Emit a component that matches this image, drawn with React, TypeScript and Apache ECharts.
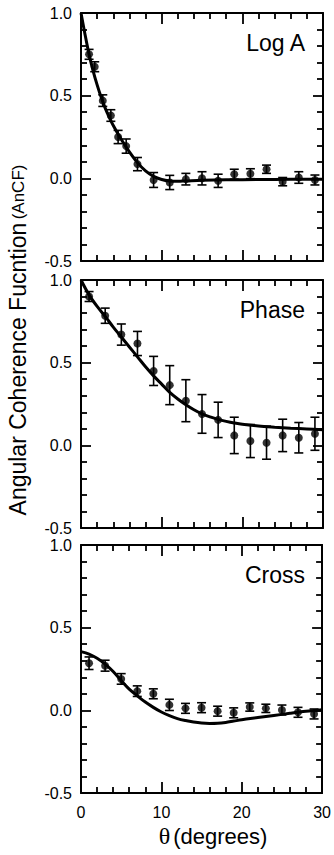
import React, { useEffect, useRef } from "react";
import * as echarts from "echarts";

// ---- Log A panel ----
const logAX = [1, 1.7, 2.7, 3.7, 4.6, 5.6, 7, 9, 11, 13, 15, 17, 19, 21, 23, 25, 27, 29];
const logAY = [0.75, 0.675, 0.47, 0.38, 0.25, 0.195, 0.086, -0.01, -0.025, -0.005, 0.0, -0.015, 0.025, 0.028, 0.055, -0.02, 0.005, -0.01];
const logAErr = [0.03, 0.03, 0.035, 0.035, 0.04, 0.043, 0.04, 0.045, 0.043, 0.035, 0.04, 0.04, 0.03, 0.03, 0.025, 0.025, 0.035, 0.03];
const logAFitX = [0, 0.5, 1, 1.5, 2, 2.5, 3, 3.5, 4, 5, 6, 7, 8, 9, 10, 11, 12, 13, 15, 18, 22, 26, 30];
const logAFitY = [1.0, 0.87, 0.75, 0.65, 0.565, 0.49, 0.425, 0.37, 0.32, 0.235, 0.16, 0.095, 0.045, 0.012, -0.007, -0.016, -0.018, -0.016, -0.012, -0.009, -0.007, -0.006, -0.006];

// ---- Phase panel ----
const phaseX = [1, 3, 5, 7, 9, 11, 13, 15, 17, 19, 21, 23, 25, 27, 29];
const phaseY = [0.9, 0.784, 0.67, 0.616, 0.45, 0.364, 0.27, 0.19, 0.154, 0.06, 0.026, 0.016, 0.06, 0.046, 0.07];
const phaseErr = [0.03, 0.046, 0.064, 0.073, 0.088, 0.118, 0.127, 0.117, 0.107, 0.11, 0.1, 0.1, 0.098, 0.092, 0.1];
const phaseFitX = [0, 1, 2, 3, 4, 5, 6, 7, 8, 9, 10, 11, 12, 13, 14, 15, 16, 17, 18, 19, 20, 22, 24, 26, 28, 30];
const phaseFitY = [1.0, 0.91, 0.84, 0.78, 0.715, 0.655, 0.595, 0.535, 0.475, 0.42, 0.37, 0.32, 0.28, 0.245, 0.215, 0.19, 0.172, 0.157, 0.145, 0.135, 0.127, 0.117, 0.11, 0.104, 0.099, 0.094];

// ---- Cross panel ----
const crossX = [1, 3, 5, 7, 9, 11, 13, 15, 17, 19, 21, 23, 25, 27, 29];
const crossY = [0.285, 0.27, 0.19, 0.116, 0.1, 0.033, 0.012, 0.016, -0.005, -0.015, 0.02, 0.012, 0.002, -0.012, -0.022];
const crossErr = [0.038, 0.033, 0.032, 0.032, 0.03, 0.034, 0.03, 0.03, 0.03, 0.03, 0.025, 0.025, 0.03, 0.03, 0.03];
const crossFitX = [0, 1, 2, 3, 4, 5, 6, 7, 8, 9, 10, 11, 12, 13, 14, 15, 16, 17, 18, 19, 20, 22, 24, 26, 28, 30];
const crossFitY = [0.355, 0.34, 0.315, 0.28, 0.235, 0.18, 0.128, 0.088, 0.05, 0.018, -0.01, -0.032, -0.05, -0.062, -0.071, -0.077, -0.079, -0.078, -0.073, -0.065, -0.057, -0.044, -0.031, -0.018, -0.006, 0.004];

const panelNames = ["Log A", "Phase", "Cross"];
const xTicks = { min: 0, max: 30, interval: 10 };
const yTicks = { min: -0.5, max: 1.0, interval: 0.5 };

const FONT = "'Liberation Sans', Arial, Helvetica, sans-serif";

const panels = [
  { x: logAX, y: logAY, e: logAErr, fx: logAFitX, fy: logAFitY },
  { x: phaseX, y: phaseY, e: phaseErr, fx: phaseFitX, fy: phaseFitY },
  { x: crossX, y: crossY, e: crossErr, fx: crossFitX, fy: crossFitY },
];

const gridTops = [13, 280, 545];
const GRID_LEFT = 81;
const GRID_W = 242;
const GRID_H = 248;

export default function App() {
  const ref = useRef<HTMLDivElement>(null);
  useEffect(() => {
    if (!ref.current) return;
    const chart = echarts.init(ref.current, undefined, { renderer: "svg" });

    const grid: any[] = [];
    const xAxis: any[] = [];
    const yAxis: any[] = [];
    const series: any[] = [];
    const graphic: any[] = [];

    const lineStyle = { color: "#000", width: 2 };
    const tickStyle = { color: "#000", width: 1.8 };

    panels.forEach((p, i) => {
      grid.push({ left: GRID_LEFT, top: gridTops[i], width: GRID_W, height: GRID_H });
      const isLast = i === panels.length - 1;
      const xBase = {
        type: "value",
        gridIndex: i,
        min: xTicks.min,
        max: xTicks.max,
        interval: xTicks.interval,
        splitLine: { show: false },
        axisLine: { show: true, onZero: false, lineStyle },
        axisTick: { show: true, inside: true, length: 11, lineStyle: tickStyle },
        minorTick: { show: true, splitNumber: 5, length: 6, lineStyle: tickStyle },
        minorSplitLine: { show: false },
      };
      xAxis.push({
        ...xBase,
        position: "bottom",
        axisLabel: {
          show: isLast,
          margin: 11,
          color: "#000",
          fontSize: 16,
          fontFamily: FONT,
        },
      });
      xAxis.push({ ...xBase, position: "top", axisLabel: { show: false } });
      const yBase = {
        type: "value",
        gridIndex: i,
        min: yTicks.min,
        max: yTicks.max,
        interval: yTicks.interval,
        splitLine: { show: false },
        axisLine: { show: true, onZero: false, lineStyle },
        axisTick: { show: true, inside: true, length: 10, lineStyle: tickStyle },
        minorTick: { show: true, splitNumber: 5, length: 6, lineStyle: tickStyle },
        minorSplitLine: { show: false },
      };
      yAxis.push({
        ...yBase,
        position: "left",
        axisLabel: {
          show: true,
          margin: 9,
          color: "#000",
          fontSize: 16,
          fontFamily: FONT,
          formatter: (v: number) => v.toFixed(1),
        },
      });
      yAxis.push({ ...yBase, position: "right", axisLabel: { show: false } });

      const xi = 2 * i;
      series.push({
        type: "line",
        xAxisIndex: xi,
        yAxisIndex: xi,
        data: p.fx.map((v, k) => [v, p.fy[k]]),
        smooth: 0.35,
        showSymbol: false,
        symbol: "none",
        lineStyle: { color: "#000", width: 3 },
        z: 3,
      });
      series.push({
        type: "custom",
        xAxisIndex: xi,
        yAxisIndex: xi,
        data: p.x.map((v, k) => [v, p.y[k], p.e[k]]),
        encode: { x: 0, y: 1 },
        renderItem: (params: any, api: any) => {
          const x = api.value(0);
          const y = api.value(1);
          const e = api.value(2);
          const top = api.coord([x, y + e]);
          const bot = api.coord([x, y - e]);
          const hw = 4.5;
          const st = { stroke: "#000", lineWidth: 1.6 };
          return {
            type: "group",
            children: [
              { type: "line", shape: { x1: top[0], y1: top[1], x2: bot[0], y2: bot[1] }, style: st },
              { type: "line", shape: { x1: top[0] - hw, y1: top[1], x2: top[0] + hw, y2: top[1] }, style: st },
              { type: "line", shape: { x1: bot[0] - hw, y1: bot[1], x2: bot[0] + hw, y2: bot[1] }, style: st },
            ],
          };
        },
        z: 4,
      });
      series.push({
        type: "scatter",
        xAxisIndex: xi,
        yAxisIndex: xi,
        data: p.x.map((v, k) => [v, p.y[k]]),
        symbol: "circle",
        symbolSize: 8,
        itemStyle: { color: "#000" },
        z: 5,
      });

      graphic.push({
        type: "text",
        x: 305,
        y: gridTops[i] + 18,
        style: {
          text: panelNames[i],
          fill: "#000",
          font: `23px ${FONT}`,
          align: "right",
          verticalAlign: "top",
        },
      });
    });

    graphic.push({
      type: "text",
      x: 18,
      y: 340,
      rotation: Math.PI / 2,
      style: {
        text: "{a|Angular Coherence Fucntion} {b|(AnCF)}",
        fill: "#000",
        align: "center",
        verticalAlign: "middle",
        rich: {
          a: { fontSize: 23, fontFamily: FONT, fill: "#000" },
          b: { fontSize: 17, fontFamily: FONT, fill: "#000" },
        },
      },
    });
    graphic.push({
      type: "text",
      x: 213,
      y: 836,
      style: {
        text: "{t|θ}{d|(degrees)}",
        fill: "#000",
        align: "center",
        verticalAlign: "middle",
        rich: {
          t: { fontSize: 24, fontFamily: "'Liberation Serif', 'DejaVu Serif', serif", fill: "#000", padding: [0, 3, 0, 0] },
          d: { fontSize: 22, fontFamily: FONT, fill: "#000" },
        },
      },
    });

    chart.setOption({
      animation: false,
      backgroundColor: "#fff",
      grid,
      xAxis,
      yAxis,
      series,
      graphic,
    });
    return () => chart.dispose();
  }, []);
  return (
    <div
      ref={ref}
      style={{ position: "fixed", left: 0, top: 0, width: 334, height: 855 }}
    />
  );
}
